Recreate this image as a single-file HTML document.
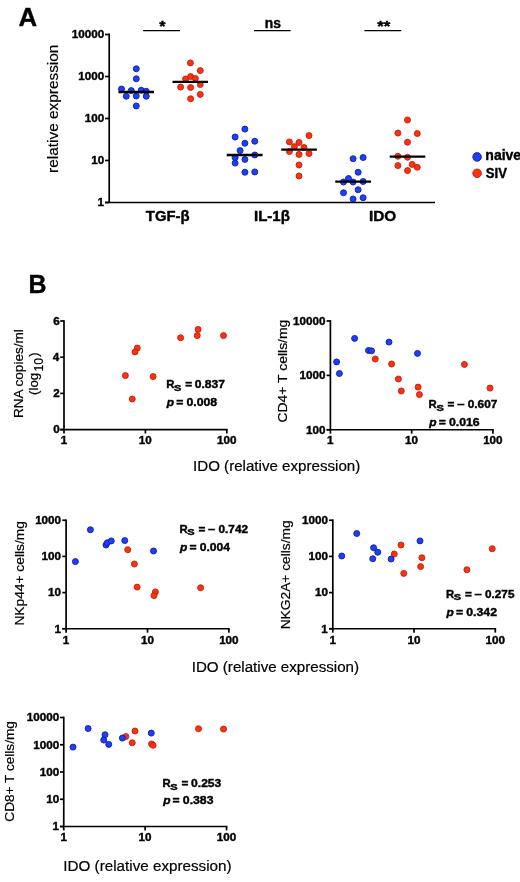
<!DOCTYPE html>
<html><head><meta charset="utf-8"><style>
html,body{margin:0;padding:0;background:#fff;}
svg{display:block;font-family:'Liberation Sans', sans-serif;filter:blur(0.4px);}
text{fill:#000;}
</style></head><body>
<svg width="520" height="882" viewBox="0 0 520 882">
<rect width="520" height="882" fill="#fff"/>
<text x="18.56" y="25.60" font-size="25.5" font-weight="bold" stroke="#000" stroke-width="0.4" textLength="18.62" lengthAdjust="spacingAndGlyphs">A</text>
<line x1="109.20" y1="33.55" x2="109.20" y2="202.50" stroke="#000" stroke-width="1.7"/>
<line x1="105.00" y1="202.50" x2="435.00" y2="202.50" stroke="#000" stroke-width="1.7"/>
<line x1="105.00" y1="34.50" x2="109.20" y2="34.50" stroke="#000" stroke-width="1.7"/>
<text x="71.85" y="38.28" font-size="11" font-weight="bold" stroke="#000" stroke-width="0.4" textLength="32.42" lengthAdjust="spacingAndGlyphs">10000</text>
<line x1="105.00" y1="76.50" x2="109.20" y2="76.50" stroke="#000" stroke-width="1.7"/>
<text x="78.35" y="80.28" font-size="11" font-weight="bold" stroke="#000" stroke-width="0.4" textLength="25.94" lengthAdjust="spacingAndGlyphs">1000</text>
<line x1="105.00" y1="118.50" x2="109.20" y2="118.50" stroke="#000" stroke-width="1.7"/>
<text x="84.83" y="122.28" font-size="11" font-weight="bold" stroke="#000" stroke-width="0.4" textLength="19.45" lengthAdjust="spacingAndGlyphs">100</text>
<line x1="105.00" y1="160.50" x2="109.20" y2="160.50" stroke="#000" stroke-width="1.7"/>
<text x="91.31" y="164.28" font-size="11" font-weight="bold" stroke="#000" stroke-width="0.4" textLength="12.97" lengthAdjust="spacingAndGlyphs">10</text>
<line x1="105.00" y1="202.50" x2="109.20" y2="202.50" stroke="#000" stroke-width="1.7"/>
<text x="97.64" y="206.28" font-size="11" font-weight="bold" stroke="#000" stroke-width="0.4" textLength="6.48" lengthAdjust="spacingAndGlyphs">1</text>
<text transform="translate(58.30,0) rotate(-90)" x="-172.92" y="0" font-size="15.2" font-weight="normal" stroke="#000" stroke-width="0.2" textLength="128.32" lengthAdjust="spacingAndGlyphs">relative expression</text>
<line x1="143.10" y1="30.60" x2="180.00" y2="30.60" stroke="#000" stroke-width="1.4"/>
<line x1="254.00" y1="30.60" x2="290.60" y2="30.60" stroke="#000" stroke-width="1.4"/>
<line x1="364.40" y1="30.60" x2="401.25" y2="30.60" stroke="#000" stroke-width="1.4"/>
<text x="159.35" y="31.10" font-size="15.2" font-weight="bold" stroke="#000" stroke-width="0.4" textLength="6.27" lengthAdjust="spacingAndGlyphs">*</text>
<text x="264.69" y="27.90" font-size="13.8" font-weight="bold" stroke="#000" stroke-width="0.4" textLength="16.13" lengthAdjust="spacingAndGlyphs">ns</text>
<text x="377.20" y="30.70" font-size="14.6" font-weight="bold" stroke="#000" stroke-width="0.4" textLength="13.07" lengthAdjust="spacingAndGlyphs">**</text>
<text x="145.84" y="220.60" font-size="14" font-weight="bold" stroke="#000" stroke-width="0.4" textLength="43.65" lengthAdjust="spacingAndGlyphs">TGF-β</text>
<text x="253.99" y="220.60" font-size="14.3" font-weight="bold" stroke="#000" stroke-width="0.4" textLength="35.91" lengthAdjust="spacingAndGlyphs">IL-1β</text>
<text x="368.97" y="221.00" font-size="14.6" font-weight="bold" stroke="#000" stroke-width="0.4" textLength="27.27" lengthAdjust="spacingAndGlyphs">IDO</text>
<circle cx="136.30" cy="68.80" r="3.0" fill="#1e40f0" stroke="#0c1cb4" stroke-width="0.9"/>
<circle cx="136.30" cy="78.80" r="3.0" fill="#1e40f0" stroke="#0c1cb4" stroke-width="0.9"/>
<circle cx="121.50" cy="89.00" r="3.0" fill="#1e40f0" stroke="#0c1cb4" stroke-width="0.9"/>
<circle cx="131.25" cy="90.60" r="3.0" fill="#1e40f0" stroke="#0c1cb4" stroke-width="0.9"/>
<circle cx="141.25" cy="90.25" r="3.0" fill="#1e40f0" stroke="#0c1cb4" stroke-width="0.9"/>
<circle cx="146.25" cy="91.25" r="3.0" fill="#1e40f0" stroke="#0c1cb4" stroke-width="0.9"/>
<circle cx="126.25" cy="96.25" r="3.0" fill="#1e40f0" stroke="#0c1cb4" stroke-width="0.9"/>
<circle cx="136.25" cy="96.00" r="3.0" fill="#1e40f0" stroke="#0c1cb4" stroke-width="0.9"/>
<circle cx="146.25" cy="96.25" r="3.0" fill="#1e40f0" stroke="#0c1cb4" stroke-width="0.9"/>
<circle cx="136.25" cy="106.00" r="3.0" fill="#1e40f0" stroke="#0c1cb4" stroke-width="0.9"/>
<circle cx="190.40" cy="62.90" r="3.0" fill="#fa3212" stroke="#c41e0a" stroke-width="0.9"/>
<circle cx="200.25" cy="70.60" r="3.0" fill="#fa3212" stroke="#c41e0a" stroke-width="0.9"/>
<circle cx="185.60" cy="79.00" r="3.0" fill="#fa3212" stroke="#c41e0a" stroke-width="0.9"/>
<circle cx="190.60" cy="76.50" r="3.0" fill="#fa3212" stroke="#c41e0a" stroke-width="0.9"/>
<circle cx="195.40" cy="78.50" r="3.0" fill="#fa3212" stroke="#c41e0a" stroke-width="0.9"/>
<circle cx="180.60" cy="87.10" r="3.0" fill="#fa3212" stroke="#c41e0a" stroke-width="0.9"/>
<circle cx="190.60" cy="87.50" r="3.0" fill="#fa3212" stroke="#c41e0a" stroke-width="0.9"/>
<circle cx="200.25" cy="84.50" r="3.0" fill="#fa3212" stroke="#c41e0a" stroke-width="0.9"/>
<circle cx="200.25" cy="94.40" r="3.0" fill="#fa3212" stroke="#c41e0a" stroke-width="0.9"/>
<circle cx="190.60" cy="98.75" r="3.0" fill="#fa3212" stroke="#c41e0a" stroke-width="0.9"/>
<circle cx="244.90" cy="129.10" r="3.0" fill="#1e40f0" stroke="#0c1cb4" stroke-width="0.9"/>
<circle cx="235.10" cy="137.00" r="3.0" fill="#1e40f0" stroke="#0c1cb4" stroke-width="0.9"/>
<circle cx="244.90" cy="143.25" r="3.0" fill="#1e40f0" stroke="#0c1cb4" stroke-width="0.9"/>
<circle cx="254.75" cy="141.25" r="3.0" fill="#1e40f0" stroke="#0c1cb4" stroke-width="0.9"/>
<circle cx="240.10" cy="150.60" r="3.0" fill="#1e40f0" stroke="#0c1cb4" stroke-width="0.9"/>
<circle cx="235.10" cy="157.50" r="3.0" fill="#1e40f0" stroke="#0c1cb4" stroke-width="0.9"/>
<circle cx="244.90" cy="159.40" r="3.0" fill="#1e40f0" stroke="#0c1cb4" stroke-width="0.9"/>
<circle cx="254.75" cy="155.00" r="3.0" fill="#1e40f0" stroke="#0c1cb4" stroke-width="0.9"/>
<circle cx="235.10" cy="163.10" r="3.0" fill="#1e40f0" stroke="#0c1cb4" stroke-width="0.9"/>
<circle cx="244.90" cy="172.25" r="3.0" fill="#1e40f0" stroke="#0c1cb4" stroke-width="0.9"/>
<circle cx="254.75" cy="171.90" r="3.0" fill="#1e40f0" stroke="#0c1cb4" stroke-width="0.9"/>
<circle cx="309.00" cy="135.60" r="3.0" fill="#fa3212" stroke="#c41e0a" stroke-width="0.9"/>
<circle cx="289.40" cy="141.90" r="3.0" fill="#fa3212" stroke="#c41e0a" stroke-width="0.9"/>
<circle cx="299.00" cy="142.50" r="3.0" fill="#fa3212" stroke="#c41e0a" stroke-width="0.9"/>
<circle cx="294.40" cy="146.60" r="3.0" fill="#fa3212" stroke="#c41e0a" stroke-width="0.9"/>
<circle cx="304.00" cy="147.50" r="3.0" fill="#fa3212" stroke="#c41e0a" stroke-width="0.9"/>
<circle cx="289.40" cy="151.50" r="3.0" fill="#fa3212" stroke="#c41e0a" stroke-width="0.9"/>
<circle cx="299.00" cy="154.40" r="3.0" fill="#fa3212" stroke="#c41e0a" stroke-width="0.9"/>
<circle cx="309.00" cy="153.50" r="3.0" fill="#fa3212" stroke="#c41e0a" stroke-width="0.9"/>
<circle cx="299.00" cy="165.00" r="3.0" fill="#fa3212" stroke="#c41e0a" stroke-width="0.9"/>
<circle cx="299.00" cy="176.00" r="3.0" fill="#fa3212" stroke="#c41e0a" stroke-width="0.9"/>
<circle cx="353.10" cy="158.75" r="3.0" fill="#1e40f0" stroke="#0c1cb4" stroke-width="0.9"/>
<circle cx="363.10" cy="157.50" r="3.0" fill="#1e40f0" stroke="#0c1cb4" stroke-width="0.9"/>
<circle cx="358.10" cy="172.25" r="3.0" fill="#1e40f0" stroke="#0c1cb4" stroke-width="0.9"/>
<circle cx="348.50" cy="178.50" r="3.0" fill="#1e40f0" stroke="#0c1cb4" stroke-width="0.9"/>
<circle cx="343.50" cy="182.00" r="3.0" fill="#1e40f0" stroke="#0c1cb4" stroke-width="0.9"/>
<circle cx="353.10" cy="182.00" r="3.0" fill="#1e40f0" stroke="#0c1cb4" stroke-width="0.9"/>
<circle cx="363.10" cy="181.50" r="3.0" fill="#1e40f0" stroke="#0c1cb4" stroke-width="0.9"/>
<circle cx="358.10" cy="189.75" r="3.0" fill="#1e40f0" stroke="#0c1cb4" stroke-width="0.9"/>
<circle cx="343.50" cy="192.75" r="3.0" fill="#1e40f0" stroke="#0c1cb4" stroke-width="0.9"/>
<circle cx="353.10" cy="199.00" r="3.0" fill="#1e40f0" stroke="#0c1cb4" stroke-width="0.9"/>
<circle cx="363.10" cy="197.75" r="3.0" fill="#1e40f0" stroke="#0c1cb4" stroke-width="0.9"/>
<circle cx="407.50" cy="120.00" r="3.0" fill="#fa3212" stroke="#c41e0a" stroke-width="0.9"/>
<circle cx="397.90" cy="133.10" r="3.0" fill="#fa3212" stroke="#c41e0a" stroke-width="0.9"/>
<circle cx="417.25" cy="133.50" r="3.0" fill="#fa3212" stroke="#c41e0a" stroke-width="0.9"/>
<circle cx="407.50" cy="142.25" r="3.0" fill="#fa3212" stroke="#c41e0a" stroke-width="0.9"/>
<circle cx="397.90" cy="156.25" r="3.0" fill="#fa3212" stroke="#c41e0a" stroke-width="0.9"/>
<circle cx="407.50" cy="157.25" r="3.0" fill="#fa3212" stroke="#c41e0a" stroke-width="0.9"/>
<circle cx="397.90" cy="165.60" r="3.0" fill="#fa3212" stroke="#c41e0a" stroke-width="0.9"/>
<circle cx="412.25" cy="164.40" r="3.0" fill="#fa3212" stroke="#c41e0a" stroke-width="0.9"/>
<circle cx="417.25" cy="167.25" r="3.0" fill="#fa3212" stroke="#c41e0a" stroke-width="0.9"/>
<circle cx="407.50" cy="170.60" r="3.0" fill="#fa3212" stroke="#c41e0a" stroke-width="0.9"/>
<line x1="118.50" y1="92.00" x2="154.00" y2="92.00" stroke="#000" stroke-width="2.3"/>
<line x1="172.50" y1="81.90" x2="208.00" y2="81.90" stroke="#000" stroke-width="2.3"/>
<line x1="226.75" y1="155.00" x2="262.60" y2="155.00" stroke="#000" stroke-width="2.3"/>
<line x1="281.25" y1="149.60" x2="316.90" y2="149.60" stroke="#000" stroke-width="2.3"/>
<line x1="335.25" y1="181.60" x2="371.00" y2="181.60" stroke="#000" stroke-width="2.3"/>
<line x1="389.75" y1="156.60" x2="425.25" y2="156.60" stroke="#000" stroke-width="2.3"/>
<circle cx="477.10" cy="156.90" r="4.3" fill="#1e40f0" stroke="#0c1cb4" stroke-width="0.9"/>
<circle cx="477.10" cy="173.30" r="4.3" fill="#fa3212" stroke="#c41e0a" stroke-width="0.9"/>
<text x="485.33" y="159.80" font-size="14" font-weight="bold" stroke="#000" stroke-width="0.4" textLength="35.80" lengthAdjust="spacingAndGlyphs">naive</text>
<text x="485.87" y="177.50" font-size="14" font-weight="bold" stroke="#000" stroke-width="0.4" textLength="21.12" lengthAdjust="spacingAndGlyphs">SIV</text>
<text x="28.53" y="292.70" font-size="25.5" font-weight="bold" stroke="#000" stroke-width="0.4" textLength="18.00" lengthAdjust="spacingAndGlyphs">B</text>
<line x1="64.00" y1="320.15" x2="64.00" y2="429.60" stroke="#000" stroke-width="1.7"/>
<line x1="60.20" y1="321.00" x2="64.00" y2="321.00" stroke="#000" stroke-width="1.7"/>
<text x="53.24" y="324.78" font-size="11" font-weight="bold" stroke="#000" stroke-width="0.4" textLength="6.48" lengthAdjust="spacingAndGlyphs">6</text>
<line x1="60.20" y1="357.20" x2="64.00" y2="357.20" stroke="#000" stroke-width="1.7"/>
<text x="52.88" y="360.98" font-size="11" font-weight="bold" stroke="#000" stroke-width="0.4" textLength="6.48" lengthAdjust="spacingAndGlyphs">4</text>
<line x1="60.20" y1="393.40" x2="64.00" y2="393.40" stroke="#000" stroke-width="1.7"/>
<text x="53.28" y="397.18" font-size="11" font-weight="bold" stroke="#000" stroke-width="0.4" textLength="6.48" lengthAdjust="spacingAndGlyphs">2</text>
<line x1="60.20" y1="429.60" x2="64.00" y2="429.60" stroke="#000" stroke-width="1.7"/>
<text x="53.30" y="433.38" font-size="11" font-weight="bold" stroke="#000" stroke-width="0.4" textLength="6.48" lengthAdjust="spacingAndGlyphs">0</text>
<line x1="60.20" y1="429.60" x2="227.65" y2="429.60" stroke="#000" stroke-width="1.7"/>
<line x1="64.00" y1="429.60" x2="64.00" y2="433.50" stroke="#000" stroke-width="1.7"/>
<text x="60.65" y="444.40" font-size="11" font-weight="bold" stroke="#000" stroke-width="0.4" textLength="6.48" lengthAdjust="spacingAndGlyphs">1</text>
<line x1="145.40" y1="429.60" x2="145.40" y2="433.50" stroke="#000" stroke-width="1.7"/>
<text x="138.89" y="444.40" font-size="11" font-weight="bold" stroke="#000" stroke-width="0.4" textLength="12.97" lengthAdjust="spacingAndGlyphs">10</text>
<line x1="226.80" y1="429.60" x2="226.80" y2="433.50" stroke="#000" stroke-width="1.7"/>
<text x="217.05" y="444.40" font-size="11" font-weight="bold" stroke="#000" stroke-width="0.4" textLength="19.45" lengthAdjust="spacingAndGlyphs">100</text>
<text transform="translate(23.10,0) rotate(-90)" x="-418.11" y="0" font-size="13.2" font-weight="normal" stroke="#000" stroke-width="0.2" textLength="88.93" lengthAdjust="spacingAndGlyphs">RNA copies/ml</text>
<text transform="translate(37.60,0) rotate(-90)" x="-394.92" y="0" font-size="12" font-weight="normal" stroke="#000" stroke-width="0.2" textLength="22.07" lengthAdjust="spacingAndGlyphs">(log</text>
<text transform="translate(42.50,0) rotate(-90)" x="-371.64" y="0" font-size="12" font-weight="normal" stroke="#000" stroke-width="0.2" textLength="13.72" lengthAdjust="spacingAndGlyphs">10</text>
<text transform="translate(37.60,0) rotate(-90)" x="-356.68" y="0" font-size="12" font-weight="normal" stroke="#000" stroke-width="0.2" textLength="4.40" lengthAdjust="spacingAndGlyphs">)</text>
<circle cx="137.25" cy="348.10" r="3.0" fill="#fa3212" stroke="#c41e0a" stroke-width="0.9"/>
<circle cx="135.00" cy="351.90" r="3.0" fill="#fa3212" stroke="#c41e0a" stroke-width="0.9"/>
<circle cx="125.40" cy="375.60" r="3.0" fill="#fa3212" stroke="#c41e0a" stroke-width="0.9"/>
<circle cx="153.10" cy="376.60" r="3.0" fill="#fa3212" stroke="#c41e0a" stroke-width="0.9"/>
<circle cx="132.25" cy="399.00" r="3.0" fill="#fa3212" stroke="#c41e0a" stroke-width="0.9"/>
<circle cx="180.60" cy="337.75" r="3.0" fill="#fa3212" stroke="#c41e0a" stroke-width="0.9"/>
<circle cx="198.10" cy="329.40" r="3.0" fill="#fa3212" stroke="#c41e0a" stroke-width="0.9"/>
<circle cx="197.25" cy="335.60" r="3.0" fill="#fa3212" stroke="#c41e0a" stroke-width="0.9"/>
<circle cx="223.50" cy="335.60" r="3.0" fill="#fa3212" stroke="#c41e0a" stroke-width="0.9"/>
<text x="166.19" y="387.90" font-size="11.2" font-weight="bold" stroke="#000" stroke-width="0.4" textLength="8.20" lengthAdjust="spacingAndGlyphs">R</text>
<text x="174.03" y="390.80" font-size="8.2" font-weight="bold" stroke="#000" stroke-width="0.4" textLength="7.35" lengthAdjust="spacingAndGlyphs">S</text>
<text x="185.17" y="387.90" font-size="11.2" font-weight="bold" stroke="#000" stroke-width="0.4" textLength="6.86" lengthAdjust="spacingAndGlyphs">=</text>
<text x="194.77" y="387.90" font-size="11.2" font-weight="bold" stroke="#000" stroke-width="0.4" textLength="30.27" lengthAdjust="spacingAndGlyphs">0.837</text>
<text x="166.81" y="406.40" font-size="11.2" font-weight="bold" font-style="italic" stroke="#000" stroke-width="0.4" textLength="7.32" lengthAdjust="spacingAndGlyphs">p</text>
<text x="176.25" y="406.40" font-size="11.2" font-weight="bold" stroke="#000" stroke-width="0.4" textLength="7.10" lengthAdjust="spacingAndGlyphs">=</text>
<text x="186.46" y="406.40" font-size="11.2" font-weight="bold" stroke="#000" stroke-width="0.4" textLength="30.68" lengthAdjust="spacingAndGlyphs">0.008</text>
<line x1="330.40" y1="320.15" x2="330.40" y2="429.75" stroke="#000" stroke-width="1.7"/>
<line x1="326.60" y1="321.00" x2="330.40" y2="321.00" stroke="#000" stroke-width="1.7"/>
<text x="293.05" y="324.78" font-size="11" font-weight="bold" stroke="#000" stroke-width="0.4" textLength="32.42" lengthAdjust="spacingAndGlyphs">10000</text>
<line x1="326.60" y1="375.40" x2="330.40" y2="375.40" stroke="#000" stroke-width="1.7"/>
<text x="299.55" y="379.18" font-size="11" font-weight="bold" stroke="#000" stroke-width="0.4" textLength="25.94" lengthAdjust="spacingAndGlyphs">1000</text>
<line x1="326.60" y1="429.75" x2="330.40" y2="429.75" stroke="#000" stroke-width="1.7"/>
<text x="306.03" y="433.53" font-size="11" font-weight="bold" stroke="#000" stroke-width="0.4" textLength="19.45" lengthAdjust="spacingAndGlyphs">100</text>
<line x1="326.60" y1="429.75" x2="493.75" y2="429.75" stroke="#000" stroke-width="1.7"/>
<line x1="330.40" y1="429.75" x2="330.40" y2="433.65" stroke="#000" stroke-width="1.7"/>
<text x="327.05" y="444.40" font-size="11" font-weight="bold" stroke="#000" stroke-width="0.4" textLength="6.48" lengthAdjust="spacingAndGlyphs">1</text>
<line x1="411.65" y1="429.75" x2="411.65" y2="433.65" stroke="#000" stroke-width="1.7"/>
<text x="405.14" y="444.40" font-size="11" font-weight="bold" stroke="#000" stroke-width="0.4" textLength="12.97" lengthAdjust="spacingAndGlyphs">10</text>
<line x1="492.90" y1="429.75" x2="492.90" y2="433.65" stroke="#000" stroke-width="1.7"/>
<text x="483.15" y="444.40" font-size="11" font-weight="bold" stroke="#000" stroke-width="0.4" textLength="19.45" lengthAdjust="spacingAndGlyphs">100</text>
<text transform="translate(286.60,0) rotate(-90)" x="-422.51" y="0" font-size="13.2" font-weight="normal" stroke="#000" stroke-width="0.2" textLength="102.81" lengthAdjust="spacingAndGlyphs">CD4+ T cells/mg</text>
<circle cx="375.25" cy="359.00" r="3.0" fill="#fa3212" stroke="#c41e0a" stroke-width="0.9"/>
<circle cx="391.60" cy="364.00" r="3.0" fill="#fa3212" stroke="#c41e0a" stroke-width="0.9"/>
<circle cx="398.40" cy="379.00" r="3.0" fill="#fa3212" stroke="#c41e0a" stroke-width="0.9"/>
<circle cx="401.25" cy="391.00" r="3.0" fill="#fa3212" stroke="#c41e0a" stroke-width="0.9"/>
<circle cx="418.10" cy="387.10" r="3.0" fill="#fa3212" stroke="#c41e0a" stroke-width="0.9"/>
<circle cx="419.40" cy="394.60" r="3.0" fill="#fa3212" stroke="#c41e0a" stroke-width="0.9"/>
<circle cx="464.40" cy="364.40" r="3.0" fill="#fa3212" stroke="#c41e0a" stroke-width="0.9"/>
<circle cx="490.00" cy="388.10" r="3.0" fill="#fa3212" stroke="#c41e0a" stroke-width="0.9"/>
<circle cx="354.60" cy="338.40" r="3.0" fill="#1e40f0" stroke="#0c1cb4" stroke-width="0.9"/>
<circle cx="389.00" cy="342.10" r="3.0" fill="#1e40f0" stroke="#0c1cb4" stroke-width="0.9"/>
<circle cx="368.50" cy="350.50" r="3.0" fill="#1e40f0" stroke="#0c1cb4" stroke-width="0.9"/>
<circle cx="371.50" cy="350.80" r="3.0" fill="#1e40f0" stroke="#0c1cb4" stroke-width="0.9"/>
<circle cx="336.60" cy="361.90" r="3.0" fill="#1e40f0" stroke="#0c1cb4" stroke-width="0.9"/>
<circle cx="339.40" cy="373.50" r="3.0" fill="#1e40f0" stroke="#0c1cb4" stroke-width="0.9"/>
<circle cx="417.50" cy="353.40" r="3.0" fill="#1e40f0" stroke="#0c1cb4" stroke-width="0.9"/>
<text x="428.64" y="408.10" font-size="11.2" font-weight="bold" stroke="#000" stroke-width="0.4" textLength="8.20" lengthAdjust="spacingAndGlyphs">R</text>
<text x="436.48" y="411.00" font-size="8.2" font-weight="bold" stroke="#000" stroke-width="0.4" textLength="7.35" lengthAdjust="spacingAndGlyphs">S</text>
<text x="447.62" y="408.10" font-size="11.2" font-weight="bold" stroke="#000" stroke-width="0.4" textLength="6.86" lengthAdjust="spacingAndGlyphs">=</text>
<text x="457.31" y="408.10" font-size="11.2" font-weight="bold" stroke="#000" stroke-width="0.4" textLength="7.30" lengthAdjust="spacingAndGlyphs">–</text>
<text x="467.73" y="408.10" font-size="11.2" font-weight="bold" stroke="#000" stroke-width="0.4" textLength="29.60" lengthAdjust="spacingAndGlyphs">0.607</text>
<text x="429.26" y="426.10" font-size="11.2" font-weight="bold" font-style="italic" stroke="#000" stroke-width="0.4" textLength="7.32" lengthAdjust="spacingAndGlyphs">p</text>
<text x="438.70" y="426.10" font-size="11.2" font-weight="bold" stroke="#000" stroke-width="0.4" textLength="7.10" lengthAdjust="spacingAndGlyphs">=</text>
<text x="448.91" y="426.10" font-size="11.2" font-weight="bold" stroke="#000" stroke-width="0.4" textLength="30.74" lengthAdjust="spacingAndGlyphs">0.016</text>
<line x1="66.10" y1="519.40" x2="66.10" y2="628.75" stroke="#000" stroke-width="1.7"/>
<line x1="62.30" y1="520.25" x2="66.10" y2="520.25" stroke="#000" stroke-width="1.7"/>
<text x="35.15" y="524.03" font-size="11" font-weight="bold" stroke="#000" stroke-width="0.4" textLength="25.94" lengthAdjust="spacingAndGlyphs">1000</text>
<line x1="62.30" y1="556.40" x2="66.10" y2="556.40" stroke="#000" stroke-width="1.7"/>
<text x="41.63" y="560.18" font-size="11" font-weight="bold" stroke="#000" stroke-width="0.4" textLength="19.45" lengthAdjust="spacingAndGlyphs">100</text>
<line x1="62.30" y1="592.60" x2="66.10" y2="592.60" stroke="#000" stroke-width="1.7"/>
<text x="48.11" y="596.38" font-size="11" font-weight="bold" stroke="#000" stroke-width="0.4" textLength="12.97" lengthAdjust="spacingAndGlyphs">10</text>
<line x1="62.30" y1="628.75" x2="66.10" y2="628.75" stroke="#000" stroke-width="1.7"/>
<text x="54.44" y="632.53" font-size="11" font-weight="bold" stroke="#000" stroke-width="0.4" textLength="6.48" lengthAdjust="spacingAndGlyphs">1</text>
<line x1="62.30" y1="628.75" x2="229.75" y2="628.75" stroke="#000" stroke-width="1.7"/>
<line x1="66.10" y1="628.75" x2="66.10" y2="632.65" stroke="#000" stroke-width="1.7"/>
<text x="62.75" y="643.50" font-size="11" font-weight="bold" stroke="#000" stroke-width="0.4" textLength="6.48" lengthAdjust="spacingAndGlyphs">1</text>
<line x1="147.50" y1="628.75" x2="147.50" y2="632.65" stroke="#000" stroke-width="1.7"/>
<text x="140.99" y="643.50" font-size="11" font-weight="bold" stroke="#000" stroke-width="0.4" textLength="12.97" lengthAdjust="spacingAndGlyphs">10</text>
<line x1="228.90" y1="628.75" x2="228.90" y2="632.65" stroke="#000" stroke-width="1.7"/>
<text x="219.15" y="643.50" font-size="11" font-weight="bold" stroke="#000" stroke-width="0.4" textLength="19.45" lengthAdjust="spacingAndGlyphs">100</text>
<text transform="translate(23.60,0) rotate(-90)" x="-625.63" y="0" font-size="13.0" font-weight="normal" stroke="#000" stroke-width="0.2" textLength="104.51" lengthAdjust="spacingAndGlyphs">NKp44+ cells/mg</text>
<circle cx="127.75" cy="549.75" r="3.0" fill="#fa3212" stroke="#c41e0a" stroke-width="0.9"/>
<circle cx="134.40" cy="564.00" r="3.0" fill="#fa3212" stroke="#c41e0a" stroke-width="0.9"/>
<circle cx="137.10" cy="587.10" r="3.0" fill="#fa3212" stroke="#c41e0a" stroke-width="0.9"/>
<circle cx="155.40" cy="591.90" r="3.0" fill="#fa3212" stroke="#c41e0a" stroke-width="0.9"/>
<circle cx="154.00" cy="595.60" r="3.0" fill="#fa3212" stroke="#c41e0a" stroke-width="0.9"/>
<circle cx="200.60" cy="587.75" r="3.0" fill="#fa3212" stroke="#c41e0a" stroke-width="0.9"/>
<circle cx="90.40" cy="529.75" r="3.0" fill="#1e40f0" stroke="#0c1cb4" stroke-width="0.9"/>
<circle cx="75.40" cy="561.60" r="3.0" fill="#1e40f0" stroke="#0c1cb4" stroke-width="0.9"/>
<circle cx="106.00" cy="545.00" r="3.0" fill="#1e40f0" stroke="#0c1cb4" stroke-width="0.9"/>
<circle cx="107.25" cy="542.75" r="3.0" fill="#1e40f0" stroke="#0c1cb4" stroke-width="0.9"/>
<circle cx="111.25" cy="540.90" r="3.0" fill="#1e40f0" stroke="#0c1cb4" stroke-width="0.9"/>
<circle cx="124.75" cy="540.60" r="3.0" fill="#1e40f0" stroke="#0c1cb4" stroke-width="0.9"/>
<circle cx="153.50" cy="551.00" r="3.0" fill="#1e40f0" stroke="#0c1cb4" stroke-width="0.9"/>
<text x="179.44" y="532.50" font-size="11.2" font-weight="bold" stroke="#000" stroke-width="0.4" textLength="8.20" lengthAdjust="spacingAndGlyphs">R</text>
<text x="187.28" y="535.40" font-size="8.2" font-weight="bold" stroke="#000" stroke-width="0.4" textLength="7.35" lengthAdjust="spacingAndGlyphs">S</text>
<text x="198.42" y="532.50" font-size="11.2" font-weight="bold" stroke="#000" stroke-width="0.4" textLength="6.86" lengthAdjust="spacingAndGlyphs">=</text>
<text x="208.11" y="532.50" font-size="11.2" font-weight="bold" stroke="#000" stroke-width="0.4" textLength="7.30" lengthAdjust="spacingAndGlyphs">–</text>
<text x="218.53" y="532.50" font-size="11.2" font-weight="bold" stroke="#000" stroke-width="0.4" textLength="29.55" lengthAdjust="spacingAndGlyphs">0.742</text>
<text x="180.06" y="550.60" font-size="11.2" font-weight="bold" font-style="italic" stroke="#000" stroke-width="0.4" textLength="7.32" lengthAdjust="spacingAndGlyphs">p</text>
<text x="189.50" y="550.60" font-size="11.2" font-weight="bold" stroke="#000" stroke-width="0.4" textLength="7.10" lengthAdjust="spacingAndGlyphs">=</text>
<text x="199.71" y="550.60" font-size="11.2" font-weight="bold" stroke="#000" stroke-width="0.4" textLength="30.35" lengthAdjust="spacingAndGlyphs">0.004</text>
<line x1="332.80" y1="519.40" x2="332.80" y2="628.75" stroke="#000" stroke-width="1.7"/>
<line x1="329.00" y1="520.25" x2="332.80" y2="520.25" stroke="#000" stroke-width="1.7"/>
<text x="302.05" y="524.03" font-size="11" font-weight="bold" stroke="#000" stroke-width="0.4" textLength="25.94" lengthAdjust="spacingAndGlyphs">1000</text>
<line x1="329.00" y1="556.40" x2="332.80" y2="556.40" stroke="#000" stroke-width="1.7"/>
<text x="308.53" y="560.18" font-size="11" font-weight="bold" stroke="#000" stroke-width="0.4" textLength="19.45" lengthAdjust="spacingAndGlyphs">100</text>
<line x1="329.00" y1="592.60" x2="332.80" y2="592.60" stroke="#000" stroke-width="1.7"/>
<text x="315.01" y="596.38" font-size="11" font-weight="bold" stroke="#000" stroke-width="0.4" textLength="12.97" lengthAdjust="spacingAndGlyphs">10</text>
<line x1="329.00" y1="628.75" x2="332.80" y2="628.75" stroke="#000" stroke-width="1.7"/>
<text x="321.34" y="632.53" font-size="11" font-weight="bold" stroke="#000" stroke-width="0.4" textLength="6.48" lengthAdjust="spacingAndGlyphs">1</text>
<line x1="329.00" y1="628.75" x2="496.15" y2="628.75" stroke="#000" stroke-width="1.7"/>
<line x1="332.80" y1="628.75" x2="332.80" y2="632.65" stroke="#000" stroke-width="1.7"/>
<text x="329.45" y="643.50" font-size="11" font-weight="bold" stroke="#000" stroke-width="0.4" textLength="6.48" lengthAdjust="spacingAndGlyphs">1</text>
<line x1="414.05" y1="628.75" x2="414.05" y2="632.65" stroke="#000" stroke-width="1.7"/>
<text x="407.54" y="643.50" font-size="11" font-weight="bold" stroke="#000" stroke-width="0.4" textLength="12.97" lengthAdjust="spacingAndGlyphs">10</text>
<line x1="495.30" y1="628.75" x2="495.30" y2="632.65" stroke="#000" stroke-width="1.7"/>
<text x="485.55" y="643.50" font-size="11" font-weight="bold" stroke="#000" stroke-width="0.4" textLength="19.45" lengthAdjust="spacingAndGlyphs">100</text>
<text transform="translate(289.80,0) rotate(-90)" x="-629.33" y="0" font-size="13.5" font-weight="normal" stroke="#000" stroke-width="0.2" textLength="109.02" lengthAdjust="spacingAndGlyphs">NKG2A+ cells/mg</text>
<circle cx="394.25" cy="554.00" r="3.0" fill="#fa3212" stroke="#c41e0a" stroke-width="0.9"/>
<circle cx="401.00" cy="545.00" r="3.0" fill="#fa3212" stroke="#c41e0a" stroke-width="0.9"/>
<circle cx="421.90" cy="557.75" r="3.0" fill="#fa3212" stroke="#c41e0a" stroke-width="0.9"/>
<circle cx="420.60" cy="566.60" r="3.0" fill="#fa3212" stroke="#c41e0a" stroke-width="0.9"/>
<circle cx="403.75" cy="573.40" r="3.0" fill="#fa3212" stroke="#c41e0a" stroke-width="0.9"/>
<circle cx="492.25" cy="548.75" r="3.0" fill="#fa3212" stroke="#c41e0a" stroke-width="0.9"/>
<circle cx="466.90" cy="569.75" r="3.0" fill="#fa3212" stroke="#c41e0a" stroke-width="0.9"/>
<circle cx="356.75" cy="533.50" r="3.0" fill="#1e40f0" stroke="#0c1cb4" stroke-width="0.9"/>
<circle cx="341.75" cy="556.00" r="3.0" fill="#1e40f0" stroke="#0c1cb4" stroke-width="0.9"/>
<circle cx="373.60" cy="547.75" r="3.0" fill="#1e40f0" stroke="#0c1cb4" stroke-width="0.9"/>
<circle cx="377.75" cy="552.25" r="3.0" fill="#1e40f0" stroke="#0c1cb4" stroke-width="0.9"/>
<circle cx="372.75" cy="558.75" r="3.0" fill="#1e40f0" stroke="#0c1cb4" stroke-width="0.9"/>
<circle cx="391.10" cy="559.00" r="3.0" fill="#1e40f0" stroke="#0c1cb4" stroke-width="0.9"/>
<circle cx="420.00" cy="540.90" r="3.0" fill="#1e40f0" stroke="#0c1cb4" stroke-width="0.9"/>
<text x="445.94" y="597.50" font-size="11.2" font-weight="bold" stroke="#000" stroke-width="0.4" textLength="8.20" lengthAdjust="spacingAndGlyphs">R</text>
<text x="453.78" y="600.40" font-size="8.2" font-weight="bold" stroke="#000" stroke-width="0.4" textLength="7.35" lengthAdjust="spacingAndGlyphs">S</text>
<text x="464.92" y="597.50" font-size="11.2" font-weight="bold" stroke="#000" stroke-width="0.4" textLength="6.86" lengthAdjust="spacingAndGlyphs">=</text>
<text x="474.61" y="597.50" font-size="11.2" font-weight="bold" stroke="#000" stroke-width="0.4" textLength="7.30" lengthAdjust="spacingAndGlyphs">–</text>
<text x="485.03" y="597.50" font-size="11.2" font-weight="bold" stroke="#000" stroke-width="0.4" textLength="29.40" lengthAdjust="spacingAndGlyphs">0.275</text>
<text x="446.56" y="615.60" font-size="11.2" font-weight="bold" font-style="italic" stroke="#000" stroke-width="0.4" textLength="7.32" lengthAdjust="spacingAndGlyphs">p</text>
<text x="456.00" y="615.60" font-size="11.2" font-weight="bold" stroke="#000" stroke-width="0.4" textLength="7.10" lengthAdjust="spacingAndGlyphs">=</text>
<text x="466.21" y="615.60" font-size="11.2" font-weight="bold" stroke="#000" stroke-width="0.4" textLength="30.79" lengthAdjust="spacingAndGlyphs">0.342</text>
<line x1="63.75" y1="716.65" x2="63.75" y2="826.50" stroke="#000" stroke-width="1.7"/>
<line x1="59.95" y1="717.50" x2="63.75" y2="717.50" stroke="#000" stroke-width="1.7"/>
<text x="26.80" y="721.28" font-size="11" font-weight="bold" stroke="#000" stroke-width="0.4" textLength="32.42" lengthAdjust="spacingAndGlyphs">10000</text>
<line x1="59.95" y1="744.75" x2="63.75" y2="744.75" stroke="#000" stroke-width="1.7"/>
<text x="33.30" y="748.53" font-size="11" font-weight="bold" stroke="#000" stroke-width="0.4" textLength="25.94" lengthAdjust="spacingAndGlyphs">1000</text>
<line x1="59.95" y1="772.00" x2="63.75" y2="772.00" stroke="#000" stroke-width="1.7"/>
<text x="39.78" y="775.78" font-size="11" font-weight="bold" stroke="#000" stroke-width="0.4" textLength="19.45" lengthAdjust="spacingAndGlyphs">100</text>
<line x1="59.95" y1="799.25" x2="63.75" y2="799.25" stroke="#000" stroke-width="1.7"/>
<text x="46.26" y="803.03" font-size="11" font-weight="bold" stroke="#000" stroke-width="0.4" textLength="12.97" lengthAdjust="spacingAndGlyphs">10</text>
<line x1="59.95" y1="826.50" x2="63.75" y2="826.50" stroke="#000" stroke-width="1.7"/>
<text x="52.59" y="830.28" font-size="11" font-weight="bold" stroke="#000" stroke-width="0.4" textLength="6.48" lengthAdjust="spacingAndGlyphs">1</text>
<line x1="59.95" y1="826.50" x2="227.40" y2="826.50" stroke="#000" stroke-width="1.7"/>
<line x1="63.75" y1="826.50" x2="63.75" y2="830.40" stroke="#000" stroke-width="1.7"/>
<text x="60.40" y="841.10" font-size="11" font-weight="bold" stroke="#000" stroke-width="0.4" textLength="6.48" lengthAdjust="spacingAndGlyphs">1</text>
<line x1="145.15" y1="826.50" x2="145.15" y2="830.40" stroke="#000" stroke-width="1.7"/>
<text x="138.64" y="841.10" font-size="11" font-weight="bold" stroke="#000" stroke-width="0.4" textLength="12.97" lengthAdjust="spacingAndGlyphs">10</text>
<line x1="226.55" y1="826.50" x2="226.55" y2="830.40" stroke="#000" stroke-width="1.7"/>
<text x="216.80" y="841.10" font-size="11" font-weight="bold" stroke="#000" stroke-width="0.4" textLength="19.45" lengthAdjust="spacingAndGlyphs">100</text>
<text transform="translate(14.00,0) rotate(-90)" x="-821.69" y="0" font-size="12.9" font-weight="normal" stroke="#000" stroke-width="0.2" textLength="100.57" lengthAdjust="spacingAndGlyphs">CD8+ T cells/mg</text>
<circle cx="125.80" cy="736.50" r="3.0" fill="#fa3212" stroke="#c41e0a" stroke-width="0.9"/>
<circle cx="135.00" cy="731.00" r="3.0" fill="#fa3212" stroke="#c41e0a" stroke-width="0.9"/>
<circle cx="132.25" cy="742.75" r="3.0" fill="#fa3212" stroke="#c41e0a" stroke-width="0.9"/>
<circle cx="151.60" cy="744.00" r="3.0" fill="#fa3212" stroke="#c41e0a" stroke-width="0.9"/>
<circle cx="153.10" cy="745.25" r="3.0" fill="#fa3212" stroke="#c41e0a" stroke-width="0.9"/>
<circle cx="198.50" cy="728.75" r="3.0" fill="#fa3212" stroke="#c41e0a" stroke-width="0.9"/>
<circle cx="223.50" cy="729.10" r="3.0" fill="#fa3212" stroke="#c41e0a" stroke-width="0.9"/>
<circle cx="88.10" cy="728.50" r="3.0" fill="#1e40f0" stroke="#0c1cb4" stroke-width="0.9"/>
<circle cx="73.00" cy="747.10" r="3.0" fill="#1e40f0" stroke="#0c1cb4" stroke-width="0.9"/>
<circle cx="105.00" cy="734.75" r="3.0" fill="#1e40f0" stroke="#0c1cb4" stroke-width="0.9"/>
<circle cx="103.75" cy="740.00" r="3.0" fill="#1e40f0" stroke="#0c1cb4" stroke-width="0.9"/>
<circle cx="108.75" cy="744.40" r="3.0" fill="#1e40f0" stroke="#0c1cb4" stroke-width="0.9"/>
<circle cx="122.40" cy="738.10" r="3.0" fill="#1e40f0" stroke="#0c1cb4" stroke-width="0.9"/>
<circle cx="151.25" cy="733.10" r="3.0" fill="#1e40f0" stroke="#0c1cb4" stroke-width="0.9"/>
<text x="162.54" y="786.60" font-size="11.2" font-weight="bold" stroke="#000" stroke-width="0.4" textLength="8.20" lengthAdjust="spacingAndGlyphs">R</text>
<text x="170.38" y="789.50" font-size="8.2" font-weight="bold" stroke="#000" stroke-width="0.4" textLength="7.35" lengthAdjust="spacingAndGlyphs">S</text>
<text x="181.52" y="786.60" font-size="11.2" font-weight="bold" stroke="#000" stroke-width="0.4" textLength="6.86" lengthAdjust="spacingAndGlyphs">=</text>
<text x="191.12" y="786.60" font-size="11.2" font-weight="bold" stroke="#000" stroke-width="0.4" textLength="30.17" lengthAdjust="spacingAndGlyphs">0.253</text>
<text x="163.16" y="804.40" font-size="11.2" font-weight="bold" font-style="italic" stroke="#000" stroke-width="0.4" textLength="7.32" lengthAdjust="spacingAndGlyphs">p</text>
<text x="172.60" y="804.40" font-size="11.2" font-weight="bold" stroke="#000" stroke-width="0.4" textLength="7.10" lengthAdjust="spacingAndGlyphs">=</text>
<text x="182.81" y="804.40" font-size="11.2" font-weight="bold" stroke="#000" stroke-width="0.4" textLength="30.74" lengthAdjust="spacingAndGlyphs">0.383</text>
<text x="193.01" y="471.00" font-size="15.2" font-weight="normal" stroke="#000" stroke-width="0.2" textLength="167.33" lengthAdjust="spacingAndGlyphs">IDO (relative expression)</text>
<text x="191.71" y="671.50" font-size="15.2" font-weight="normal" stroke="#000" stroke-width="0.2" textLength="167.33" lengthAdjust="spacingAndGlyphs">IDO (relative expression)</text>
<text x="63.35" y="871.25" font-size="15.2" font-weight="normal" stroke="#000" stroke-width="0.2" textLength="168.19" lengthAdjust="spacingAndGlyphs">IDO (relative expression)</text>
</svg>
</body></html>
